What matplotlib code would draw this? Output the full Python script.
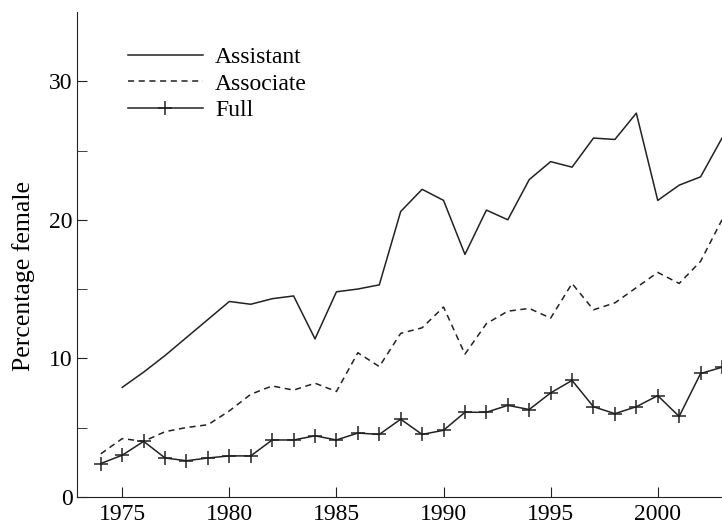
import numpy as np
import matplotlib
matplotlib.use('Agg')
import matplotlib.pyplot as plt

plt.rcParams['font.family'] = ['Liberation Serif', 'DejaVu Serif']

# years and percentage female by rank
years_asst = list(range(1975, 2004))
asst = [7.9, 9.0, 10.2, 11.5, 12.8, 14.1, 13.9, 14.3, 14.5, 11.4,
        14.8, 15.0, 15.3, 20.6, 22.2, 21.4, 17.5, 20.7, 20.0, 22.9,
        24.2, 23.8, 25.9, 25.8, 27.7, 21.4, 22.5, 23.1, 25.9]

years = list(range(1974, 2004))
assoc = [3.1, 4.2, 4.0, 4.7, 5.0, 5.2, 6.2, 7.4, 8.0, 7.7,
         8.2, 7.6, 10.4, 9.4, 11.8, 12.2, 13.7, 10.3, 12.5, 13.4,
         13.6, 12.9, 15.4, 13.5, 14.0, 15.1, 16.2, 15.4, 17.0, 20.0]
full = [2.4, 3.0, 4.0, 2.8, 2.6, 2.8, 2.95, 2.95, 4.1, 4.1,
        4.4, 4.1, 4.6, 4.5, 5.6, 4.5, 4.8, 6.1, 6.1, 6.6,
        6.3, 7.5, 8.4, 6.5, 6.0, 6.5, 7.3, 5.8, 8.9, 9.35]

fig = plt.figure(figsize=(7.22, 5.24), dpi=100)
ax = fig.add_axes([0.107, 0.052, 0.893, 0.925])

ax.plot(years_asst, asst, color='#222222', linewidth=1.1, label='Assistant')
ax.plot(years, assoc, color='#222222', linewidth=1.1, linestyle=(0, (4, 3)), label='Associate')
ax.plot(years, full, color='#222222', linewidth=1.1, marker='+', markersize=10,
        markeredgewidth=1.1, label='Full')

ax.set_xlim(1972.9, 2003.0)
ax.set_ylim(0, 35)
ax.set_xticks([1975, 1980, 1985, 1990, 1995, 2000])
ax.set_yticks([0, 10, 20, 30])
ax.set_yticks([5, 15, 25], minor=True)
ax.tick_params(axis='both', which='both', direction='in', labelsize=17, color='#222222')
ax.tick_params(axis='both', which='major', length=7)
ax.tick_params(axis='y', which='minor', length=7)
ax.tick_params(axis='x', pad=5)

for s in ['top', 'right']:
    ax.spines[s].set_visible(False)
for s in ['left', 'bottom']:
    ax.spines[s].set_color('#222222')

ax.set_ylabel('Percentage female', fontsize=18.5)
ax.yaxis.set_label_coords(-0.066, 0.455)

leg = ax.legend(loc='upper left', bbox_to_anchor=(0.045, 0.972), frameon=False,
                fontsize=17, handlelength=3.2, handletextpad=0.5, labelspacing=0.2)
for h in leg.legend_handles:
    if h.get_marker() == '+':
        h.set_markevery([1])

plt.savefig('out.png', dpi=100)
